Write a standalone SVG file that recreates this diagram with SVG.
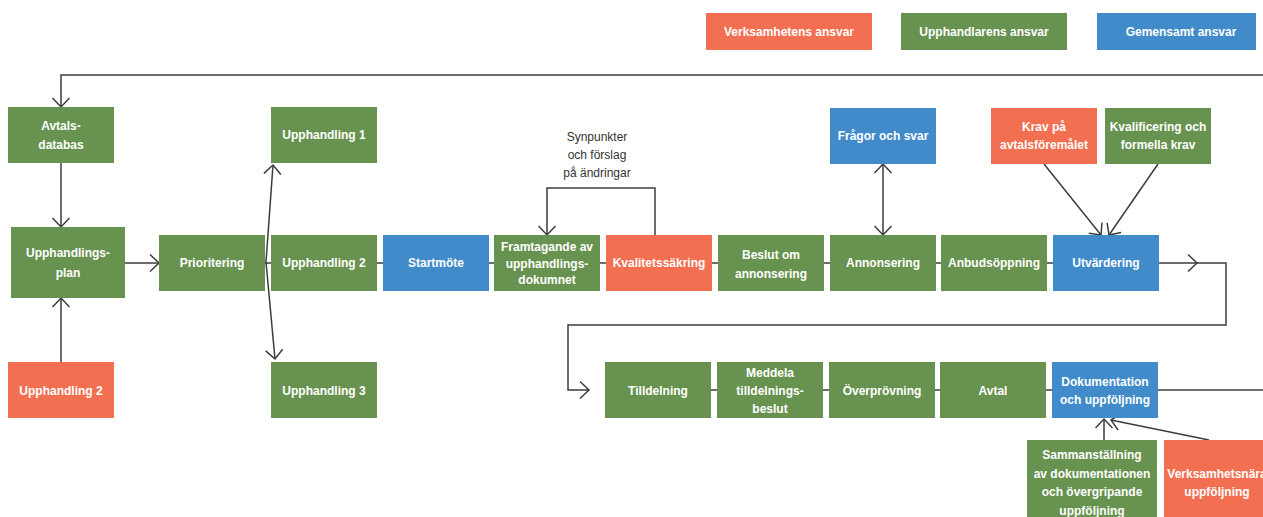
<svg xmlns="http://www.w3.org/2000/svg" width="1263" height="517" viewBox="0 0 1263 517">
<defs>
<style>
.g{fill:#68924f}.o{fill:#f26f52}.b{fill:#418bca}
text.t{fill:#fff;font-family:"Liberation Sans",Arial,sans-serif;font-weight:bold;font-size:12px;text-anchor:middle;dominant-baseline:central}
text.n{fill:#333;font-family:"Liberation Sans",Arial,sans-serif;font-size:12px;text-anchor:middle;dominant-baseline:central}
.c{fill:none;stroke:#3c3c3c;stroke-width:1.5}
</style>
<marker id="a" markerUnits="userSpaceOnUse" markerWidth="24" markerHeight="24" viewBox="-12 -12 24 24" refX="0" refY="0" orient="auto-start-reverse">
<path d="M-9,-8.5 L0,0 L-9,8.5" fill="none" stroke="#3c3c3c" stroke-width="1.5"/>
</marker>
</defs>
<rect width="1263" height="517" fill="#fff"/>

<g id="connectors">
<path class="c" d="M265,263 H1053"/>
<path class="c" d="M711,390 H1263"/>
<path class="c" d="M1263,75 H61 V107" marker-end="url(#a)"/>
<path class="c" d="M61,163 V227" marker-end="url(#a)"/>
<path class="c" d="M61,362 V298" marker-end="url(#a)"/>
<path class="c" d="M125,263 H159" marker-end="url(#a)"/>
<path class="c" d="M266,262 L273,165" marker-end="url(#a)"/>
<path class="c" d="M266,262 L275,359" marker-end="url(#a)"/>
<path class="c" d="M655,235 V188 H547 V235" marker-end="url(#a)"/>
<path class="c" d="M883,164 V235" marker-start="url(#a)" marker-end="url(#a)"/>
<path class="c" d="M1044,164 L1101,235" marker-end="url(#a)"/>
<path class="c" d="M1158,164 L1109,235" marker-end="url(#a)"/>
<path class="c" d="M1159,263 H1197" marker-end="url(#a)"/>
<path class="c" d="M1197,263 H1226 V325 H568 V390 H589" marker-end="url(#a)"/>
<path class="c" d="M1104,440 V419" marker-end="url(#a)"/>
<path class="c" d="M1209,440 L1111,420" marker-end="url(#a)"/>
</g>

<g id="legend-verksamhet"><rect class="o" x="706" y="13" width="166" height="37"/><text class="t" x="789" y="32">Verksamhetens ansvar</text></g>
<g id="legend-upphandlare"><rect class="g" x="901" y="13" width="166" height="37"/><text class="t" x="984" y="32">Upphandlarens ansvar</text></g>
<g id="legend-gemensamt"><rect class="b" x="1097" y="13" width="159" height="37"/><text class="t" x="1181" y="32">Gemensamt ansvar</text></g>

<g id="avtalsdatabas"><rect class="g" x="8" y="107" width="106" height="56"/><text class="t" x="61" y="126">Avtals-</text><text class="t" x="61" y="145">databas</text></g>
<g id="upphandlingsplan"><rect class="g" x="11" y="227" width="114" height="71"/><text class="t" x="68" y="253">Upphandlings-</text><text class="t" x="68" y="273">plan</text></g>
<g id="upphandling2-o"><rect class="o" x="8" y="362" width="106" height="56"/><text class="t" x="61" y="391">Upphandling 2</text></g>
<g id="prioritering"><rect class="g" x="159" y="235" width="106" height="56"/><text class="t" x="212" y="263">Prioritering</text></g>
<g id="upphandling1"><rect class="g" x="271" y="107" width="106" height="56"/><text class="t" x="324" y="135">Upphandling 1</text></g>
<g id="upphandling2"><rect class="g" x="271" y="235" width="106" height="56"/><text class="t" x="324" y="263">Upphandling 2</text></g>
<g id="upphandling3"><rect class="g" x="271" y="362" width="106" height="56"/><text class="t" x="324" y="391">Upphandling 3</text></g>
<g id="startmote"><rect class="b" x="383" y="235" width="106" height="56"/><text class="t" x="436" y="263">Startmöte</text></g>
<g id="framtagande"><rect class="g" x="494" y="235" width="106" height="56"/><text class="t" x="547" y="247">Framtagande av</text><text class="t" x="547" y="263.5">upphandlings-</text><text class="t" x="547" y="280">dokumnet</text></g>
<g id="kvalitet"><rect class="o" x="606" y="235" width="106" height="56"/><text class="t" x="659" y="263">Kvalitetssäkring</text></g>
<g id="synpunkter"><text class="n" x="597" y="137">Synpunkter</text><text class="n" x="597" y="155">och förslag</text><text class="n" x="597" y="173">på ändringar</text></g>
<g id="beslut"><rect class="g" x="718" y="235" width="106" height="56"/><text class="t" x="771" y="255">Beslut om</text><text class="t" x="771" y="274">annonsering</text></g>
<g id="annonsering"><rect class="g" x="830" y="235" width="106" height="56"/><text class="t" x="883" y="263">Annonsering</text></g>
<g id="fragor"><rect class="b" x="830" y="108" width="106" height="56"/><text class="t" x="883" y="136">Frågor och svar</text></g>
<g id="anbud"><rect class="g" x="941" y="235" width="106" height="56"/><text class="t" x="994" y="263">Anbudsöppning</text></g>
<g id="utvardering"><rect class="b" x="1053" y="235" width="106" height="56"/><text class="t" x="1106" y="263">Utvärdering</text></g>
<g id="krav"><rect class="o" x="991" y="108" width="106" height="56"/><text class="t" x="1044" y="127">Krav på</text><text class="t" x="1044" y="145">avtalsföremålet</text></g>
<g id="kvalificering"><rect class="g" x="1105" y="108" width="106" height="56"/><text class="t" x="1158" y="127">Kvalificering och</text><text class="t" x="1158" y="145">formella krav</text></g>

<g id="tilldelning"><rect class="g" x="605" y="362" width="106" height="56"/><text class="t" x="658" y="391">Tilldelning</text></g>
<g id="meddela"><rect class="g" x="717" y="362" width="106" height="56"/><text class="t" x="770" y="373">Meddela</text><text class="t" x="770" y="391">tilldelnings-</text><text class="t" x="770" y="409">beslut</text></g>
<g id="overprovning"><rect class="g" x="829" y="362" width="106" height="56"/><text class="t" x="882" y="391">Överprövning</text></g>
<g id="avtal"><rect class="g" x="940" y="362" width="106" height="56"/><text class="t" x="993" y="391">Avtal</text></g>
<g id="dokumentation"><rect class="b" x="1052" y="362" width="106" height="56"/><text class="t" x="1105" y="382">Dokumentation</text><text class="t" x="1105" y="400">och uppföljning</text></g>
<g id="sammanstallning"><rect class="g" x="1027" y="440" width="130" height="85"/><text class="t" x="1092" y="455">Sammanställning</text><text class="t" x="1092" y="474">av dokumentationen</text><text class="t" x="1092" y="492">och övergripande</text><text class="t" x="1092" y="511">uppföljning</text></g>
<g id="verksamhetsnara"><rect class="o" x="1164" y="440" width="106" height="85"/><text class="t" x="1217" y="474">Verksamhetsnära</text><text class="t" x="1217" y="492">uppföljning</text></g>
</svg>
